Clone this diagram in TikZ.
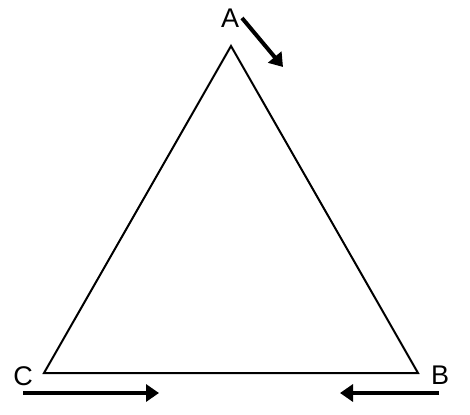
\documentclass[tikz,border=0pt]{standalone}
\usepackage{fontspec}
\setmainfont{Liberation Sans}
\usetikzlibrary{arrows.meta}
\begin{document}
\begin{tikzpicture}[x=1pt,y=-1pt,
  edge/.style={draw=black,line width=2pt,line join=miter},
  bigarrow/.style={draw=black,line width=4pt,-{Triangle[length=13pt,width=17pt]}},
  lbl/.style={font=\fontsize{27}{27}\selectfont,inner sep=0pt}]
\useasboundingbox (0,0) rectangle (470,414);
\fill[white] (0,0) rectangle (470,414);
\coordinate (pa) at (231,46);
\coordinate (pb) at (418,373);
\coordinate (pc) at (44,373);
\draw[edge] (pa) -- (pb) -- (pc) -- cycle;
\node[lbl] (A) at (230,18) {A};
\node[lbl] (B) at (440,375) {B};
\node[lbl] (C) at (23,376) {C};
\coordinate (a1) at (242,18);
\coordinate (a2) at (283,67);
\coordinate (c1) at (23,393);
\coordinate (c2) at (159,393);
\coordinate (b1) at (439,393);
\coordinate (b2) at (340,393);
\draw[bigarrow] (a1) -- (a2);
\draw[bigarrow] (c1) -- (c2);
\draw[bigarrow] (b1) -- (b2);
\end{tikzpicture}
\end{document}
